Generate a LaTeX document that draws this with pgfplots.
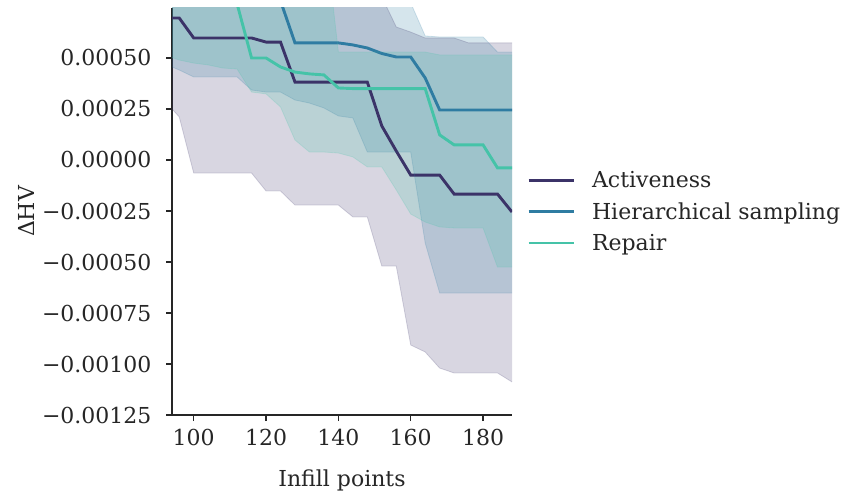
\documentclass[border=0pt]{standalone}
\usepackage{fontspec}
\setmainfont{DejaVu Serif}
\usepackage{pgfplots}
\pgfplotsset{compat=1.18}
\usepackage{pgfplotstable}
\usepgfplotslibrary{fillbetween}

\definecolor{cA}{HTML}{3B3368}
\definecolor{cH}{HTML}{2F7CA2}
\definecolor{cR}{HTML}{45C3A8}
\definecolor{spine}{HTML}{262626}

% values in units of 1e-4
\pgfplotstableread{
x   Am     Al      Au    Hm    Hl     Hu     Rm     Rl     Ru
92  6.96   2.90    9.0   9.5   4.71   11.0   12.0   5.15   12.0
96  6.96   2.11    9.0   9.5   4.41   11.0   12.0   4.90   12.0
100 5.98  -0.64    9.0   9.5   4.07   11.0   12.0   4.75   12.0
104 5.98  -0.64    9.0   9.5   4.07   11.0   12.0   4.66   12.0
108 5.98  -0.64    9.0   9.5   4.07   11.0   12.0   4.51   12.0
112 5.98  -0.64    9.0   9.5   4.07   11.0   7.65   4.46   12.0
116 5.98  -0.64    9.0   9.5   3.43   11.0   5.00   3.33   12.0
120 5.78  -1.52    9.0   9.5   3.33   11.0   5.00   3.24   12.0
124 5.78  -1.52    9.0   7.8   3.33   11.0   4.56   2.60   12.0
128 3.82  -2.21    9.0   5.74  2.94   11.0   4.31   0.98   12.0
132 3.82  -2.21    9.0   5.74  2.79   11.0   4.22   0.39   12.0
136 3.82  -2.21    9.0   5.74  2.55   11.0   4.17   0.39   11.5
140 3.82  -2.21    9.0   5.74  2.16   11.0   3.53   0.34   5.29
144 3.82  -2.79    9.0   5.64  2.06   11.0   3.50   0.15   5.29
148 3.82  -2.79    9.0   5.49  0.39   11.0   3.50  -0.34   5.29
152 1.67  -5.20    8.0   5.22  0.39   11.0   3.50  -0.34   5.29
156 0.44  -5.20    6.52  5.05  0.39   11.0   3.50  -1.47   5.29
160 -0.74 -9.07    6.27  5.05  0.39   7.70   3.50  -2.65   5.29
164 -0.74 -9.41    5.98  4.02  -4.07  6.08   3.50  -3.04   5.29
168 -0.74 -10.20   5.98  2.45  -6.52  6.03   1.23  -3.28   5.15
172 -1.67 -10.44   5.98  2.45  -6.52  6.03   0.74  -3.33   5.15
176 -1.67 -10.44   5.74  2.45  -6.52  6.03   0.74  -3.33   5.15
180 -1.67 -10.44   5.74  2.45  -6.52  6.03   0.74  -3.33   5.15
184 -1.67 -10.44   5.74  2.45  -6.52  5.29  -0.39  -5.25   5.15
188 -2.55 -10.88   5.74  2.45  -6.52  5.29  -0.39  -5.25   5.15
}\data

\begin{document}
\begin{tikzpicture}
\begin{axis}[
  scale only axis, width=340pt, height=407pt,
  xmin=94, xmax=188, ymin=-12.5, ymax=7.45,
  axis lines=left,
  axis line style={-, line width=1.6pt, color=spine},
  tick align=outside,
  major tick length=6pt,
  every tick/.style={line width=1.3pt, color=spine},
  xtick={100,120,...,180},
  ytick={-12.5,-10,-7.5,-5,-2.5,0,2.5,5},
  yticklabels={−0.00125,−0.00100,−0.00075,−0.00050,−0.00025,0.00000,0.00025,0.00050},
  font=\fontsize{22}{26}\selectfont,
  /pgf/number format/assume math mode=true,
  tick label style={color=spine},
  yticklabel style={xshift=-11pt},
  xticklabel style={yshift=-5pt},
  label style={color=spine},
  xlabel={Infill points}, ylabel={ΔHV},
  xlabel shift=17pt,
  ylabel shift=1pt,
  legend cell align=left,
  legend style={at={(1.044,0.5)}, anchor=west, draw=none, fill=none,
    inner sep=0pt, row sep=9.5pt, font=\fontsize{22}{26}\selectfont, text=spine,
    /tikz/every odd column/.append style={column sep=15pt}},
  legend image code/.code={\draw[#1, line width=2.9pt, opacity=1] (0pt,0pt) -- (45pt,0pt);},
  clip=true,
]
% Activeness band
\addplot[name path=Au, cA, opacity=0.2, line width=0.8pt, forget plot] table[x=x,y=Au]{\data};
\addplot[name path=Al, cA, opacity=0.2, line width=0.8pt, forget plot] table[x=x,y=Al]{\data};
\addplot[fill=cA, fill opacity=0.2, draw=none, forget plot] fill between[of=Au and Al];
\addplot[cA, line width=2.9pt] table[x=x,y=Am]{\data};
\addlegendentry{Activeness}
% Hierarchical band
\addplot[name path=Hu, cH, opacity=0.2, line width=0.8pt, forget plot] table[x=x,y=Hu]{\data};
\addplot[name path=Hl, cH, opacity=0.2, line width=0.8pt, forget plot] table[x=x,y=Hl]{\data};
\addplot[fill=cH, fill opacity=0.2, draw=none, forget plot] fill between[of=Hu and Hl];
\addplot[cH, line width=2.9pt] table[x=x,y=Hm]{\data};
\addlegendentry{Hierarchical sampling}
% Repair band
\addplot[name path=Ru, cR, opacity=0.2, line width=0.8pt, forget plot] table[x=x,y=Ru]{\data};
\addplot[name path=Rl, cR, opacity=0.2, line width=0.8pt, forget plot] table[x=x,y=Rl]{\data};
\addplot[fill=cR, fill opacity=0.2, draw=none, forget plot] fill between[of=Ru and Rl];
\addplot[cR, line width=2.9pt] table[x=x,y=Rm]{\data};
\addlegendentry{Repair}
\end{axis}
\pgfresetboundingbox
\path[use as bounding box] ([xshift=-172pt,yshift=8pt]current axis.north west) rectangle ([xshift=329pt,yshift=-81pt]current axis.south east);
\end{tikzpicture}
\end{document}
